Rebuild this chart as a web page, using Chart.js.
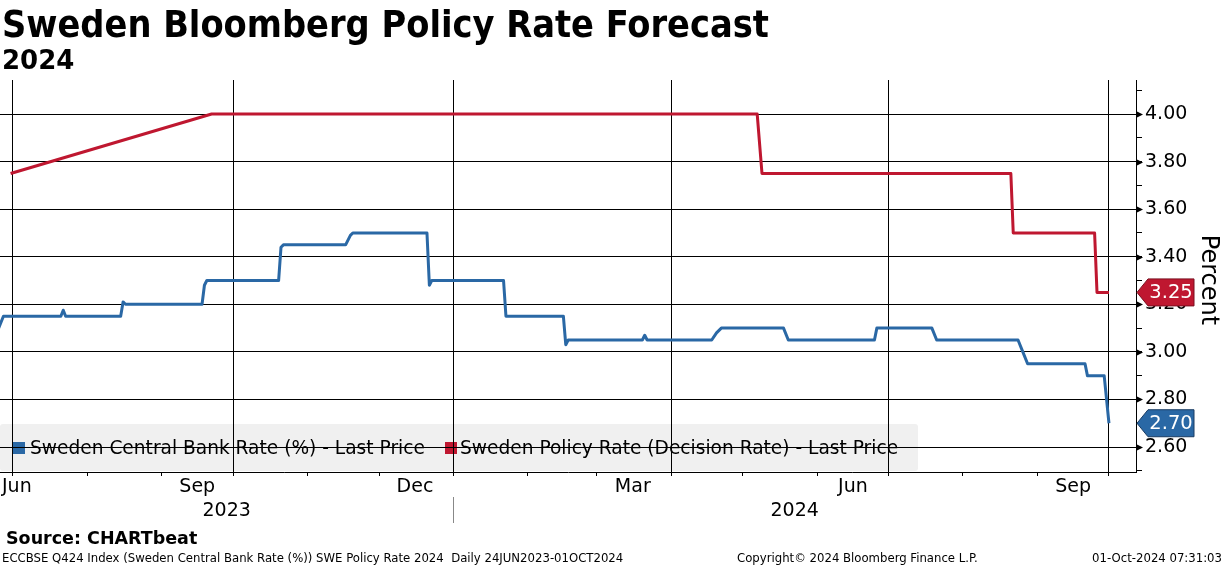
<!DOCTYPE html>
<html>
<head>
<meta charset="utf-8">
<script src="https://cdn.jsdelivr.net/npm/chart.js@4.4.0/dist/chart.umd.min.js"></script>
<style>
  html, body { margin: 0; padding: 0; background: #fff; }
  #wrap { width: 1224px; height: 566px; }
</style>
</head>
<body>
<div id="wrap"><canvas id="chart" width="1224" height="566"></canvas></div>
<script>
// ====== DATA ======
const centralDates = [
  "2023-06-25","2023-06-27","2023-07-21","2023-07-22","2023-07-23",
  "2023-08-15","2023-08-16","2023-08-17","2023-09-18","2023-09-19","2023-09-20",
  "2023-10-20","2023-10-21","2023-10-22","2023-11-17","2023-11-19","2023-11-20",
  "2023-12-21","2023-12-22","2023-12-23","2024-01-22","2024-01-23",
  "2024-02-16","2024-02-17","2024-02-18","2024-03-20","2024-03-21","2024-03-22",
  "2024-04-18","2024-04-20","2024-04-22","2024-05-18","2024-05-20",
  "2024-06-25","2024-06-26","2024-07-19","2024-07-21",
  "2024-08-24","2024-08-26","2024-08-28","2024-09-21","2024-09-22",
  "2024-09-29","2024-10-01"
];
const centralValues = [
  3.10, 3.15, 3.15, 3.175, 3.15,
  3.15, 3.21, 3.20, 3.20, 3.28, 3.30,
  3.30, 3.44, 3.45, 3.45, 3.49, 3.50,
  3.50, 3.28, 3.30, 3.30, 3.15,
  3.15, 3.03, 3.05, 3.05, 3.07, 3.05,
  3.05, 3.08, 3.10, 3.10, 3.05,
  3.05, 3.10, 3.10, 3.05,
  3.05, 3.00, 2.95, 2.95, 2.90,
  2.90, 2.70
];
const policyDates = [
  "2023-06-30","2023-09-22","2024-05-07","2024-05-09",
  "2024-08-21","2024-08-22","2024-09-25","2024-09-26","2024-10-01"
];
const policyValues = [3.75, 4.00, 4.00, 3.75, 3.75, 3.50, 3.50, 3.25, 3.25];

const seriesNames = [
  "Sweden Central Bank Rate (%) - Last Price",
  "Sweden Policy Rate (Decision Rate) - Last Price"
];
const monthLabels = ["Jun", "Sep", "Dec", "Mar", "Jun", "Sep"];
const monthLabelDates = ["2023-06-16","2023-09-16","2023-12-16","2024-03-16","2024-06-16","2024-09-16"];
const yearLabels = ["2023", "2024"];
const yTickValues = [2.5,2.6,2.7,2.8,2.9,3.0,3.1,3.2,3.3,3.4,3.5,3.6,3.7,3.8,3.9,4.0,4.1];
const yLabelValues = [2.6, 2.8, 3.0, 3.2, 3.4, 3.6, 3.8, 4.0];

const BLUE = "#2a68a5";
const RED = "#bf1730";
const FONT = "'DejaVu Sans', sans-serif";
const NARROW = "'DejaVu Sans Condensed', 'DejaVu Sans', sans-serif";

// ====== HELPERS ======
const DAY = 86400000;
const BASE = Date.UTC(2023, 6, 1);
const toDay = s => (Date.parse(s) - BASE) / DAY;

const monthTicks = [];
for (let m = 6; m <= 21; m++) {
  monthTicks.push({ value: (Date.UTC(2023, m, 1) - BASE) / DAY, quarter: m % 3 === 0 });
}
const quarterDays = new Set(monthTicks.filter(t => t.quarter).map(t => t.value));
const isMajor = v => yLabelValues.some(l => Math.abs(l - v) < 1e-6);

const centralPts = centralDates.map((d, i) => ({ x: toDay(d), y: centralValues[i] }));
const policyPts = policyDates.map((d, i) => ({ x: toDay(d), y: policyValues[i] }));

// ====== DECORATION ======
const deco = {
  id: "deco",
  beforeDraw(chart) {
    const c = chart.ctx;
    c.save();
    // legend box sits under the grid
    c.fillStyle = "#f0f0f0";
    c.beginPath();
    c.roundRect(0, 424, 918, 47, 3);
    c.fill();
    c.font = "18.6px " + FONT;
    c.textBaseline = "middle";
    c.fillStyle = BLUE;
    c.fillRect(13, 442, 12, 12);
    c.fillStyle = RED;
    c.fillRect(445, 442, 12, 12);
    c.fillStyle = "#000";
    c.fillText(seriesNames[0], 30, 449);
    c.fillText(seriesNames[1], 460, 449);
    c.restore();
  },
  afterDraw(chart) {
    const c = chart.ctx;
    const x = chart.scales.x, y = chart.scales.y;
    const area = chart.chartArea;
    c.save();

    // titles
    c.fillStyle = "#000";
    c.textAlign = "left";
    c.textBaseline = "alphabetic";
    c.font = "bold 37.5px " + NARROW;
    c.fillText("Sweden Bloomberg Policy Rate Forecast", 2, 37);
    c.font = "bold 26px " + FONT;
    c.fillText("2024", 2, 69);

    // month labels
    c.font = "19px " + FONT;
    c.textAlign = "center";
    c.textBaseline = "middle";
    monthLabels.forEach((lab, i) => {
      let px = x.getPixelForValue(toDay(monthLabelDates[i]));
      const half = c.measureText(lab).width / 2;
      px = Math.max(px, area.left + half + 2);
      c.fillText(lab, px, 487);
    });

    // year labels, centred on the visible part of each year
    const split = x.getPixelForValue(toDay("2024-01-01"));
    c.fillText(yearLabels[0], (area.left + split) / 2, 511);
    c.fillText(yearLabels[1], (split + area.right) / 2, 511);
    c.strokeStyle = "#888";
    c.lineWidth = 1;
    c.beginPath();
    c.moveTo(Math.round(split) + 0.5, 497);
    c.lineTo(Math.round(split) + 0.5, 523);
    c.stroke();

    // arrowheads on major y ticks
    c.fillStyle = "#000";
    yLabelValues.forEach(v => {
      const py = Math.round(y.getPixelForValue(v)) + 0.5;
      c.beginPath();
      c.moveTo(area.right, py - 3.5);
      c.lineTo(area.right + 7, py);
      c.lineTo(area.right, py + 3.5);
      c.closePath();
      c.fill();
    });

    // axis title
    c.save();
    c.translate(1208, 280);
    c.rotate(Math.PI / 2);
    c.font = "24px " + FONT;
    c.textAlign = "center";
    c.textBaseline = "middle";
    c.fillText("Percent", 0, 0);
    c.restore();

    // last value badges
    const badge = (val, fill, edge) => {
      const py = y.getPixelForValue(val);
      const h = 27, l = area.right + 1, b = area.right + 12, r = 1194;
      c.beginPath();
      c.moveTo(l, py);
      c.lineTo(b, py - h / 2);
      c.lineTo(r, py - h / 2);
      c.lineTo(r, py + h / 2);
      c.lineTo(b, py + h / 2);
      c.closePath();
      c.fillStyle = fill;
      c.fill();
      c.strokeStyle = edge;
      c.lineWidth = 1;
      c.stroke();
      c.fillStyle = "#fff";
      c.font = "19.5px " + FONT;
      c.textAlign = "center";
      c.textBaseline = "middle";
      c.fillText(val.toFixed(2), (b + r) / 2, py + 1);
    };
    badge(policyValues[policyValues.length - 1], RED, "#7a0f1f");
    badge(centralValues[centralValues.length - 1], BLUE, "#1a3c63");

    // source + footer
    c.fillStyle = "#000";
    c.textAlign = "left";
    c.textBaseline = "alphabetic";
    c.font = "bold 17.5px " + FONT;
    c.fillText("Source: CHARTbeat", 6, 544);
    c.font = "13px " + NARROW;
    c.fillText("ECCBSE Q424 Index (Sweden Central Bank Rate (%)) SWE Policy Rate 2024  Daily 24JUN2023-01OCT2024", 2, 562);
    c.fillText("Copyright\u00a9 2024 Bloomberg Finance L.P.", 737, 562);
    c.textAlign = "right";
    c.fillText("01-Oct-2024 07:31:03", 1222, 562);
    c.restore();
  }
};

// ====== CHART ======
new Chart(document.getElementById("chart"), {
  type: "line",
  data: {
    datasets: [
      { label: seriesNames[0], data: centralPts, borderColor: BLUE, borderWidth: 3, pointRadius: 0, tension: 0, borderJoinStyle: "round" },
      { label: seriesNames[1], data: policyPts, borderColor: RED, borderWidth: 3, pointRadius: 0, tension: 0, borderJoinStyle: "round" }
    ]
  },
  options: {
    responsive: false,
    animation: false,
    devicePixelRatio: 1,
    layout: { padding: { top: 80, left: 0, right: 0, bottom: 0 } },
    plugins: { legend: { display: false }, tooltip: { enabled: false } },
    scales: {
      x: {
        type: "linear",
        min: -5.43,
        max: 469.3,
        afterBuildTicks: axis => { axis.ticks = monthTicks.map(t => ({ value: t.value })); },
        afterFit: axis => { axis.height = 94; },
        ticks: { display: false, autoSkip: false },
        grid: {
          color: ctx => quarterDays.has(ctx.tick && ctx.tick.value) ? "#000" : "rgba(0,0,0,0)",
          tickColor: "#000",
          tickLength: 4,
          lineWidth: 1
        },
        border: { display: true, color: "#000", width: 1 }
      },
      y: {
        position: "right",
        min: 2.495,
        max: 4.143,
        afterBuildTicks: axis => { axis.ticks = yTickValues.map(v => ({ value: v })); },
        afterFit: axis => { axis.width = 88; },
        ticks: {
          autoSkip: false,
          padding: 3,
          color: "#000",
          font: { family: FONT, size: 19 },
          callback: v => isMajor(v) ? v.toFixed(2) : ""
        },
        grid: {
          color: ctx => isMajor(ctx.tick && ctx.tick.value) ? "#000" : "rgba(0,0,0,0)",
          tickColor: "#000",
          tickLength: 6,
          lineWidth: 1
        },
        border: { display: true, color: "#000", width: 1 }
      }
    }
  },
  plugins: [deco]
});
</script>
</body>
</html>
